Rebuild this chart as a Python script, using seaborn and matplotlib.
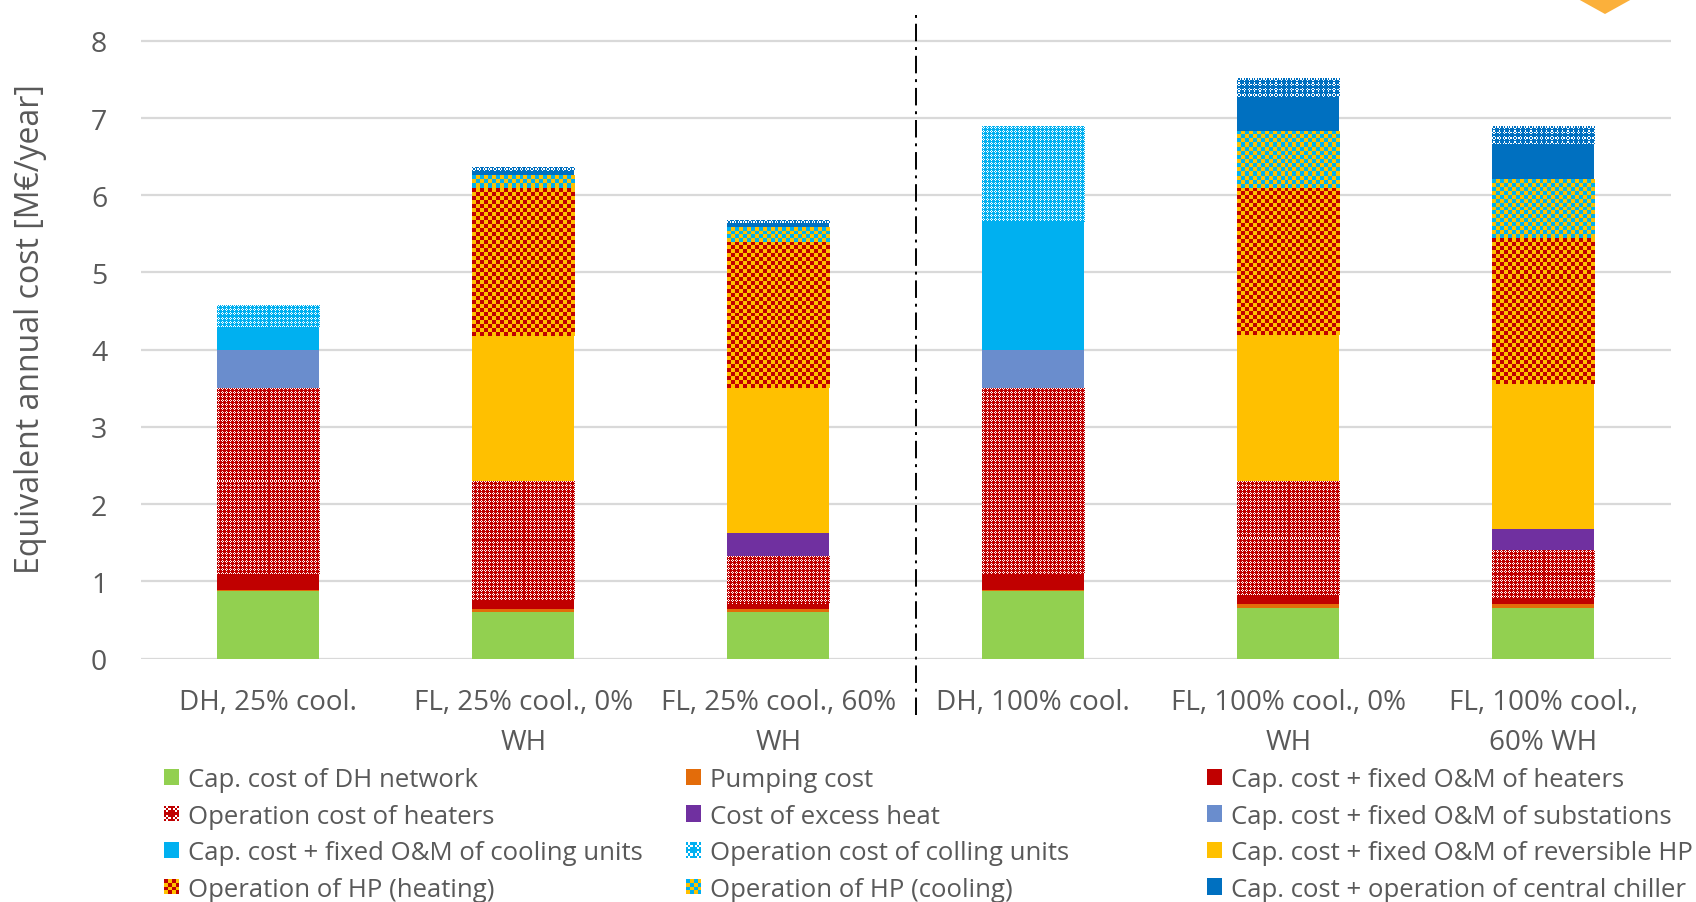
import numpy as np
import pandas as pd
import matplotlib
matplotlib.use("Agg")
import matplotlib.pyplot as plt
import seaborn as sns
from matplotlib.patches import Rectangle, Polygon
from matplotlib.legend_handler import HandlerBase
from matplotlib.colors import to_rgb

# ---------------- data ----------------
scenarios = ["DH, 25% cool.", "FL, 25% cool., 0% WH", "FL, 25% cool., 60% WH",
             "DH, 100% cool.", "FL, 100% cool., 0% WH", "FL, 100% cool., 60% WH"]
tick_labels = ["DH, 25% cool.", "FL, 25% cool., 0%\nWH", "FL, 25% cool., 60%\nWH",
               "DH, 100% cool.", "FL, 100% cool., 0%\nWH", "FL, 100% cool.,\n60% WH"]

cap_dh_network   = [0.88, 0.60, 0.605, 0.88, 0.655, 0.655]
pumping          = [0.01, 0.035, 0.035, 0.01, 0.05, 0.055]
cap_heaters      = [0.20, 0.12, 0.06, 0.20, 0.12, 0.08]
op_heaters       = [2.41, 1.545, 0.63, 2.42, 1.48, 0.615]
excess_heat      = [0.0, 0.0, 0.29, 0.0, 0.0, 0.275]
cap_substations  = [0.50, 0.0, 0.0, 0.48, 0.0, 0.0]
cap_cooling      = [0.29, 0.0, 0.0, 1.67, 0.0, 0.0]
op_cooling       = [0.29, 0.0, 0.0, 1.24, 0.0, 0.0]
cap_rev_hp       = [0.0, 1.88, 1.88, 0.0, 1.88, 1.88]
op_hp_heating    = [0.0, 1.91, 1.90, 0.0, 1.91, 1.89]
op_hp_cooling    = [0.0, 0.17, 0.19, 0.0, 0.74, 0.76]
central_chiller  = [0.0, 0.05, 0.05, 0.0, 0.44, 0.45]
op_central_chill = [0.0, 0.05, 0.04, 0.0, 0.25, 0.24]

series_names = ["Cap. cost of DH network", "Pumping cost", "Cap. cost + fixed O&M of heaters",
                "Operation cost of heaters", "Cost of excess heat", "Cap. cost + fixed O&M of substations",
                "Cap. cost + fixed O&M of cooling units", "Operation cost of colling units",
                "Cap. cost + fixed O&M of reversible HP", "Operation of HP (heating)",
                "Operation of HP (cooling)", "Cap. cost + operation of central chiller",
                "Operation of central chiller"]
series_values = [cap_dh_network, pumping, cap_heaters, op_heaters, excess_heat, cap_substations,
                 cap_cooling, op_cooling, cap_rev_hp, op_hp_heating, op_hp_cooling,
                 central_chiller, op_central_chill]

# ---------------- styles ----------------
GREEN, ORANGE, RED, PURPLE = "#92D050", "#E36C0A", "#C00000", "#7030A0"
SUBST, CYAN, YELLOW, DBLUE, WHITE = "#6A8DCD", "#00B0F0", "#FFC000", "#0070C0", "#FFFFFF"


def cross_tile(c):
    m = {"C": to_rgb(c), "W": to_rgb(WHITE)}
    rows = ["CWCC", "WCWC", "CWCC", "CCCC"]
    return np.array([[m[ch] for ch in r] for r in rows])


def checker_tile(a, b):
    return np.array([[to_rgb(a), to_rgb(b)], [to_rgb(b), to_rgb(a)]])


# (facecolor, pattern tile or None, pattern cell px)
styles = [
    (GREEN, None, 0), (ORANGE, None, 0), (RED, None, 0),
    (RED, cross_tile(RED), 1), (PURPLE, None, 0), (SUBST, None, 0),
    (CYAN, None, 0), (CYAN, cross_tile(CYAN), 1), (YELLOW, None, 0),
    (YELLOW, checker_tile(RED, YELLOW), 4), (YELLOW, checker_tile(CYAN, YELLOW), 4),
    (DBLUE, None, 0), (DBLUE, cross_tile(DBLUE), 1.3),
]

TXT = "#595959"
sns.set_theme(style="white")
plt.rcParams["font.family"] = ["Open Sans", "DejaVu Sans"]
plt.rcParams["text.color"] = TXT

W, H = 1696, 903
fig = plt.figure(figsize=(W / 100, H / 100), dpi=100)
ax_l, ax_r, ax_t, ax_b = 140.6, 1671, 11, 659.5
ax = fig.add_axes([ax_l / W, 1 - ax_b / H, (ax_r - ax_l) / W, (ax_b - ax_t) / H])
ax.set_xlim(-0.5, 5.5)
ax.set_ylim(0, 8.4)

bottom = np.zeros(len(scenarios))
containers = []
for name, vals, (fc, tile, cell) in zip(series_names, series_values, styles):
    vals = np.asarray(vals, dtype=float)
    sns.barplot(x=scenarios, y=vals, order=scenarios, bottom=bottom.copy(), color=fc,
                saturation=1, width=0.4, errorbar=None, linewidth=0, ax=ax, zorder=3)
    containers.append(ax.containers[-1])
    bottom += vals

ax.set_xlim(-0.5, 5.5)
ax.set_ylim(0, 8.4)

# textured fills clipped to the bars
for cont, (fc, tile, cell) in zip(containers, styles):
    if tile is None:
        continue
    for rect in cont.patches:
        h = rect.get_height()
        if h <= 0:
            continue
        x, y, w = rect.get_x(), rect.get_y(), rect.get_width()
        px0, py0 = ax.transData.transform((x, y))
        px1, py1 = ax.transData.transform((x + w, y + h))
        nx = max(1, int(round((px1 - px0) / cell)))
        ny = max(1, int(round((py1 - py0) / cell)))
        reps = (ny // tile.shape[0] + 1, nx // tile.shape[1] + 1, 1)
        img = np.tile(tile, reps)[:ny, :nx]
        im = ax.imshow(img, extent=(x, x + w, y, y + h), origin="upper",
                       interpolation="nearest", aspect="auto", zorder=3.5)
        im.set_clip_path(rect)

ax.set_xlim(-0.5, 5.5)
ax.set_ylim(0, 8.4)
ax.set_aspect("auto")

# axes styling
ax.set_yticks(range(0, 9))
ax.yaxis.grid(True, color="#D9D9D9", linewidth=1.6, zorder=0)
ax.xaxis.grid(False)
for s in ax.spines.values():
    s.set_visible(False)
ax.set_axisbelow(True)
ax.set_xticks(range(len(scenarios)))
ax.set_xticklabels(tick_labels, fontsize=20, color=TXT, linespacing=1.6)
ax.tick_params(axis="x", length=0, pad=21)
ax.tick_params(axis="y", length=0, pad=24, labelsize=20.5, labelcolor=TXT)
ax.set_xlabel("")
ax.set_ylabel("Equivalent annual cost [M€/year]", fontsize=23, color=TXT)
ax.yaxis.set_label_coords(-0.061, 0.51)

# divider between the 25% and 100% cooling groups
ax.axvline(2.54, ymin=-0.087, ymax=1.0, color="black", linewidth=1.4,
           dashes=(9, 3, 1.5, 3), clip_on=False, zorder=5)

# orange decoration at the top edge
fig.patches.append(Polygon([[1578 / W, 1.0], [1632 / W, 1.0], [1605 / W, 1 - 15 / H]],
                           closed=True, transform=fig.transFigure, facecolor="#FBB03B",
                           edgecolor="none"))


# ---------------- legend ----------------
class PatternHandler(HandlerBase):
    def __init__(self, tile, n):
        super().__init__()
        self.tile = tile
        self.n = n

    def create_artists(self, legend, orig_handle, xdescent, ydescent, width, height, fontsize, trans):
        s = min(width, height)
        x0 = -xdescent + (width - s) / 2
        y0 = -ydescent + (height - s) / 2
        c = s / self.n
        th, tw = self.tile.shape[:2]
        arts = []
        for i in range(self.n):
            for j in range(self.n):
                col = self.tile[j % th][i % tw]
                arts.append(Rectangle((x0 + i * c, y0 + s - (j + 1) * c), c, c, facecolor=col,
                                      edgecolor="none", lw=0, antialiased=False, transform=trans))
        return arts


handles, hmap = [], {}
for name, (fc, tile, cell) in zip(series_names, styles):
    hnd = Rectangle((0, 0), 1, 1, facecolor=fc, edgecolor="none")
    if tile is not None:
        hmap[hnd] = PatternHandler(tile, 7 if tile.shape[0] == 4 else 4)
    handles.append(hnd)

col_x = [164, 686, 1207]
leg_top = 1 - 768 / H
for c in range(3):
    idx = [c, c + 3, c + 6, c + 9]
    leg = fig.legend([handles[i] for i in idx], [series_names[i] for i in idx],
                     handler_map=hmap, loc="upper left", bbox_to_anchor=(col_x[c] / W, leg_top),
                     bbox_transform=fig.transFigure, frameon=False, fontsize=18.5,
                     handlelength=0.6, handleheight=0.6, handletextpad=0.35,
                     labelspacing=0.45, borderpad=0, borderaxespad=0)
    for t in leg.get_texts():
        t.set_color(TXT)

fig.savefig("out.png", dpi=100)
